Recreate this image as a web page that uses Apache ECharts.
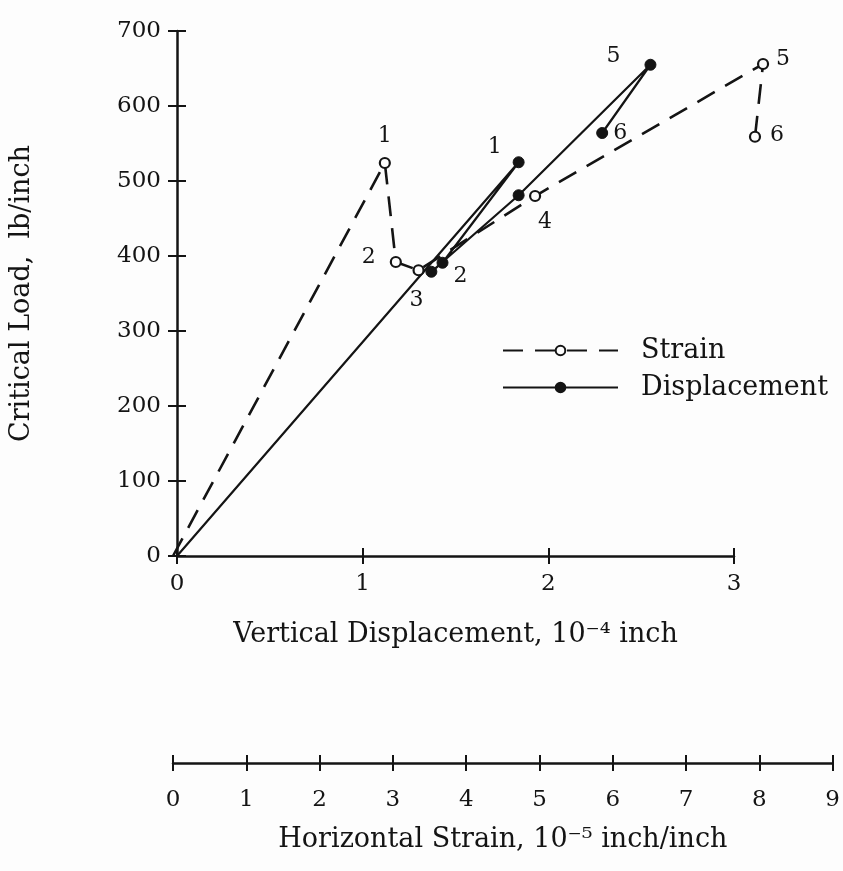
<!DOCTYPE html>
<html lang="en">
<head>
  <meta charset="utf-8">
  <title>Critical Load vs Displacement and Strain</title>
  <style>
    * { margin: 0; padding: 0; }
    #chart-container { width: 843px; height: 871px; background: #fdfdfd; }
  </style>
</head>
<body>
  <div id="chart-container"></div>
  <script src="https://cdn.jsdelivr.net/npm/echarts@6/dist/echarts.min.js"></script>
  <script>
    // data
    const dispX = [0, 1.84, 1.43, 1.37, 1.84, 2.55, 2.29];        // 10^-4 inch
    const dispLoad = [0, 525, 391, 379, 481, 655, 564];           // lb/inch
    const dispLabels = ['', '1', '2', '', '', '5', '6'];
    const strainX = [0, 2.89, 3.04, 3.35, 4.94, 8.05, 7.94];      // 10^-5 inch/inch
    const strainLoad = [0, 524, 392, 381, 480, 656, 559];
    const strainLabels = ['', '1', '2', '3', '4', '5', '6'];

    // label placement (pixels, relative to the marker)
    const dispLabelOffsets = [[0, 0], [-24, -15], [18, 14], [0, 0], [0, 0], [-37, -8], [18, 0]];
    const strainLabelOffsets = [[0, 0], [0, -27], [-27, -5], [-2, 30], [10, 26], [20, -5], [22, -1]];

    const font = 'DejaVu Serif';
    const ink = '#141414';

    var dom = document.getElementById('chart-container');
    var myChart = echarts.init(dom, null, { renderer: 'canvas' });

    function buildData(xs, ys, labels, offsets) {
      return xs.map(function (x, i) {
        return {
          value: [x, ys[i]],
          symbol: i === 0 ? 'none' : undefined,
          label: {
            show: labels[i] !== '',
            formatter: labels[i],
            position: 'inside',
            offset: offsets[i]
          }
        };
      });
    }

    var labelStyle = { color: ink, fontFamily: font, fontSize: 22 };
    var tickStyle = { color: ink, width: 2 };

    var option = {
      backgroundColor: '#fdfdfd',
      animation: false,
      textStyle: { fontFamily: font, color: ink },
      grid: [
        { left: 177, top: 31, width: 557, height: 525 },
        { left: 173, top: 31, width: 663, height: 525 }
      ],
      legend: {
        orient: 'vertical',
        left: 497,
        top: 332,
        itemWidth: 115,
        itemHeight: 12,
        itemGap: 10,
        textStyle: { fontFamily: font, fontSize: 27, color: ink, padding: [0, 0, 0, 18] },
        data: ['Strain', 'Displacement']
      },
      xAxis: [
        {
          gridIndex: 0, type: 'value', min: 0, max: 3, interval: 1,
          name: 'Vertical Displacement, 10\u207B\u2074 inch',
          nameLocation: 'middle', nameGap: 65,
          nameTextStyle: { fontFamily: font, fontSize: 27, color: ink },
          axisLine: { onZero: false, lineStyle: { color: ink, width: 2.5 } },
          axisTick: { length: 8, lineStyle: tickStyle },
          axisLabel: { margin: 17, fontSize: 23, color: ink, fontFamily: font },
          splitLine: { show: false }
        },
        {
          gridIndex: 0, type: 'value', min: 0, max: 3, interval: 1, position: 'bottom',
          axisLine: { show: false, onZero: false },
          axisTick: { inside: true, length: 8, lineStyle: tickStyle },
          axisLabel: { show: false },
          splitLine: { show: false }
        },
        {
          gridIndex: 1, type: 'value', min: 0, max: 9, interval: 1, position: 'bottom', offset: 207,
          name: 'Horizontal Strain, 10\u207B\u2075 inch/inch',
          nameLocation: 'middle', nameGap: 63,
          nameTextStyle: { fontFamily: font, fontSize: 27, color: ink },
          axisLine: { onZero: false, lineStyle: { color: ink, width: 2.5 } },
          axisTick: { length: 8, lineStyle: tickStyle },
          axisLabel: { margin: 26, fontSize: 23, color: ink, fontFamily: font },
          splitLine: { show: false }
        },
        {
          gridIndex: 1, type: 'value', min: 0, max: 9, interval: 1, position: 'bottom', offset: 207,
          axisLine: { show: false, onZero: false },
          axisTick: { inside: true, length: 8, lineStyle: tickStyle },
          axisLabel: { show: false },
          splitLine: { show: false }
        }
      ],
      yAxis: [
        {
          gridIndex: 0, type: 'value', min: 0, max: 700, interval: 100,
          name: 'Critical Load,  lb/inch',
          nameLocation: 'middle', nameGap: 142, nameRotate: 90,
          nameTextStyle: { fontFamily: font, fontSize: 27, color: ink },
          axisLine: { show: true, onZero: false, lineStyle: { color: ink, width: 2.5 } },
          axisTick: { show: true, length: 9, lineStyle: tickStyle },
          axisLabel: { margin: 16, fontSize: 23, color: ink, fontFamily: font },
          splitLine: { show: false }
        },
        {
          gridIndex: 0, type: 'value', min: 0, max: 700, interval: 100, position: 'left',
          axisLine: { show: false, onZero: false },
          axisTick: { show: true, inside: true, length: 9, lineStyle: tickStyle },
          axisLabel: { show: false },
          splitLine: { show: false }
        },
        {
          gridIndex: 1, type: 'value', min: 0, max: 700, show: false,
          splitLine: { show: false }
        }
      ],
      series: [
        {
          name: 'Strain',
          type: 'line',
          xAxisIndex: 2,
          yAxisIndex: 2,
          symbol: 'circle',
          symbolSize: 10,
          showAllSymbol: true,
          itemStyle: { color: '#fdfdfd', borderColor: ink, borderWidth: 2.2 },
          lineStyle: { color: ink, width: 2.6, type: [20, 12] },
          label: labelStyle,
          data: buildData(strainX, strainLoad, strainLabels, strainLabelOffsets)
        },
        {
          name: 'Displacement',
          type: 'line',
          xAxisIndex: 0,
          yAxisIndex: 0,
          symbol: 'circle',
          symbolSize: 11,
          showAllSymbol: true,
          itemStyle: { color: ink, borderColor: ink, borderWidth: 1 },
          lineStyle: { color: ink, width: 2.2 },
          label: labelStyle,
          data: buildData(dispX, dispLoad, dispLabels, dispLabelOffsets)
        }
      ]
    };

    myChart.setOption(option);
    window.addEventListener('resize', myChart.resize);
  </script>
</body>
</html>
